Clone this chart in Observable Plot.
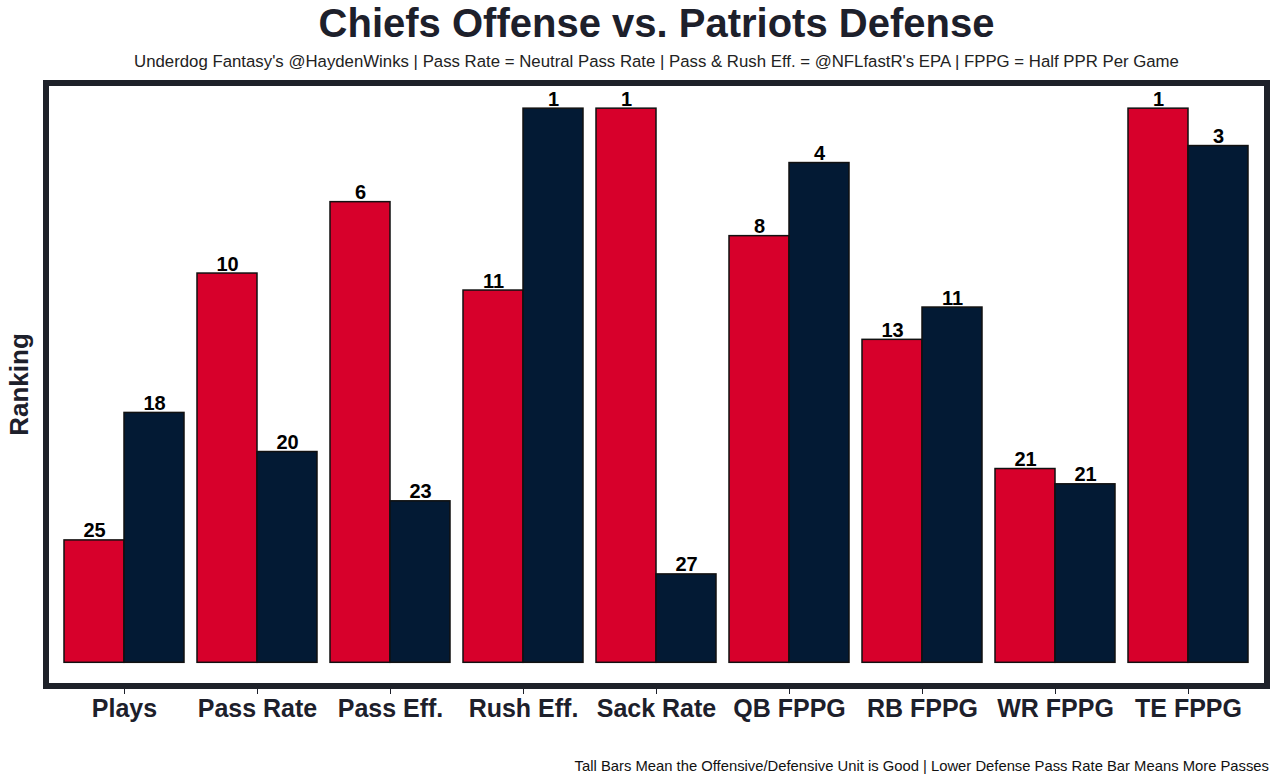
<!DOCTYPE html>
<html>
<head>
<meta charset="utf-8">
<script src="https://cdn.jsdelivr.net/npm/d3@7"></script>
<script src="https://cdn.jsdelivr.net/npm/@observablehq/plot@0.6"></script>
<style>
  html, body { margin: 0; padding: 0; background: #ffffff; }
  body { width: 1280px; height: 783px; overflow: hidden; font-family: "Liberation Sans", Arial, Helvetica, sans-serif; color: #1d202b; }
  #title { height: 46px; line-height: 46px; font-size: 40px; font-weight: bold; text-align: center; padding-left: 33px; white-space: nowrap; }
  #subtitle { height: 30px; line-height: 31px; font-size: 16.8px; text-align: center; color: #222; padding-left: 33px; white-space: nowrap; }
  #chart { height: 659px; }
  #chart svg { display: block; }
  #caption { height: 48px; line-height: 62px; font-size: 14.8px; text-align: right; padding-right: 11px; color: #111; white-space: nowrap; }
</style>
</head>
<body>
<div id="title">Chiefs Offense vs. Patriots Defense</div>
<div id="subtitle">Underdog Fantasy's @HaydenWinks | Pass Rate = Neutral Pass Rate | Pass &amp; Rush Eff. = @NFLfastR's EPA | FPPG = Half PPR Per Game</div>
<div id="chart"></div>
<div id="caption">Tall Bars Mean the Offensive/Defensive Unit is Good | Lower Defense Pass Rate Bar Means More Passes</div>
<script>
// ---- data ----
const categories = ["Plays", "Pass Rate", "Pass Eff.", "Rush Eff.", "Sack Rate", "QB FPPG", "RB FPPG", "WR FPPG", "TE FPPG"];
const units = ["Offense", "Defense"];
const offenseRank = [25, 10, 6, 11, 1, 8, 13, 21, 1];
const defenseRank = [18, 20, 23, 1, 27, 4, 11, 21, 3];
// bar heights (inverted ranking score) as drawn
const offenseScore = [7.2, 22.9, 27.1, 21.9, 32.6, 25.1, 19.0, 11.4, 32.6];
const defenseScore = [14.7, 12.4, 9.5, 32.6, 5.2, 29.4, 20.9, 10.5, 30.4];

const colors = ["#d7002b", "#031a34"];

const data = [];
categories.forEach((c, i) => {
  data.push({cat: c, unit: "Offense", score: offenseScore[i], rank: offenseRank[i]});
  data.push({cat: c, unit: "Defense", score: defenseScore[i], rank: defenseRank[i]});
});

const W = 1280, H = 659;
const mL = 46, mR = 13, mT = 7, mB = 49;

const chart = Plot.plot({
  width: W,
  height: H,
  marginLeft: mL,
  marginRight: mR,
  marginTop: mT,
  marginBottom: mB,
  style: {fontFamily: '"Liberation Sans", Arial, Helvetica, sans-serif', fontSize: "25px", fontWeight: "bold", color: "#1d202b", background: "#ffffff"},
  fx: {domain: categories, paddingInner: 0.097, paddingOuter: 0.127, label: null, tickSize: 8, tickPadding: 5, axis: "bottom"},
  x: {domain: units, padding: 0, axis: null},
  y: {domain: [-1.394, 34.08], axis: null},
  color: {domain: units, range: colors},
  marks: [
    Plot.barY(data, {fx: "cat", x: "unit", y: "score", fill: "unit", stroke: "#111111", strokeWidth: 1.5}),
    Plot.text(data, {fx: "cat", x: "unit", y: "score", text: d => String(d.rank), lineAnchor: "bottom", dy: -3, fontSize: 20, fontWeight: "bold", fill: "#000000"})
  ]
});

document.getElementById("chart").appendChild(chart);

// panel border and y-axis title
const svg = d3.select(chart);
svg.append("rect")
  .attr("x", mL).attr("y", mT)
  .attr("width", W - mL - mR).attr("height", H - mT - mB)
  .attr("fill", "none").attr("stroke", "#1e2129").attr("stroke-width", 6);
svg.append("text")
  .attr("transform", `translate(28, ${mT + (H - mT - mB) / 2}) rotate(-90)`)
  .attr("text-anchor", "middle")
  .attr("font-size", 26).attr("font-weight", "bold").attr("fill", "#1d202b")
  .text("Ranking");
</script>
</body>
</html>
